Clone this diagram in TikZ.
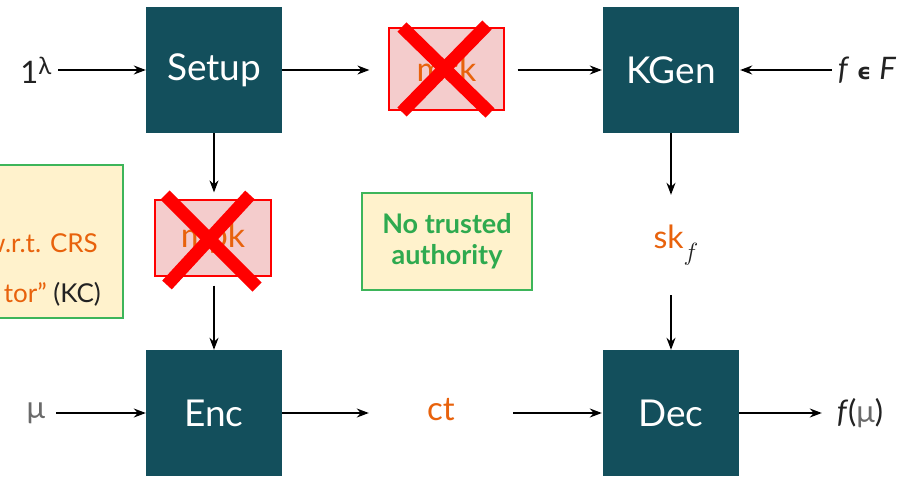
\documentclass[tikz,border=0pt]{standalone}
\usepackage{fontspec}
\setmainfont{Lato}
\newfontfamily\symfont{DejaVu Sans}
\usetikzlibrary{arrows.meta}
\definecolor{algofill}{HTML}{134F5C}
\definecolor{keyfill}{HTML}{F4CCCC}
\definecolor{keyline}{HTML}{FF0000}
\definecolor{accent}{HTML}{E8620C}
\definecolor{notefill}{HTML}{FFF2CC}
\definecolor{noteline}{HTML}{3DB55A}
\definecolor{notetext}{HTML}{2EAA4F}
\definecolor{ink}{HTML}{222222}
\definecolor{greyink}{HTML}{6A6A6A}
\begin{document}
\begin{tikzpicture}[x=1pt,y=-1pt,
  algo/.style={fill=algofill, minimum width=136pt, minimum height=126pt, inner sep=0pt,
    text=white, font=\fontsize{37}{42}\selectfont},
  keybox/.style={fill=keyfill, draw=keyline, line width=1.2pt, inner sep=0pt,
    text=accent, font=\fontsize{34}{38}\selectfont},
  note/.style={fill=notefill, draw=noteline, line width=1.4pt, inner sep=0pt},
  label/.style={text=ink, inner sep=0pt, font=\fontsize{31}{36}\selectfont},
  arr/.style={draw=black, line width=1.3pt, -{Stealth[length=12pt,width=9pt]}},
  cross/.style={draw=keyline, line width=13pt}]
\useasboundingbox (0,0) rectangle (903,480);
\clip (0,0) rectangle (903,480);

% algorithms
\node[algo] (setup) at (214,70) {Setup};
\node[algo] (kgen) at (671,70) {KGen};
\node[algo] (enc) at (214,413) {Enc};
\node[algo] (dec) at (671,413) {Dec};

% struck-out keys
\node[keybox, minimum width=115pt, minimum height=82pt] (msk) at (446.5,69) {msk};
\node[keybox, minimum width=116pt, minimum height=76pt] (mpk) at (213,238) {mpk};
\draw[cross] (402,27) -- (490,113);
\draw[cross] (487,25) -- (402,112);
\draw[cross] (165,195) -- (257,287);
\draw[cross] (250,195) -- (167,285);

% notes
\node[note, minimum width=170pt, minimum height=97pt, text=notetext, align=center,
  font=\bfseries\fontsize{27}{31}\selectfont] (trust) at (447,241.5) {No trusted\\authority};
\node[note, minimum width=200pt, minimum height=153pt] (kcbox) at (23,241.5) {};
\node[anchor=base east, text=accent, inner sep=0pt, font=\fontsize{26}{28}\selectfont] (crs) at (98,252) {w.r.t. CRS};
\node[anchor=base east, text=ink, inner sep=0pt, font=\fontsize{26}{28}\selectfont] (kc) at (101,302) {\textcolor{accent}{tor”} (KC)};

% inputs and outputs
\node[label, minimum width=44pt] (lam) at (36,70) {1\textsuperscript{\fontsize{24}{26}\selectfont λ}};
\node[label, minimum width=70pt] (fF) at (867,70) {\textit{f} {\symfont\bfseries\fontsize{22}{24}\selectfont ϵ} \textit{F}};
\node[label, text=greyink, minimum width=40pt] (mu) at (36,413) {μ};
\node[label, minimum width=76pt] (fmu) at (860,413) {\textit{f}(\textcolor{greyink}{μ})};
\node[text=accent, inner sep=0pt, minimum height=100pt, font=\fontsize{32}{36}\selectfont] (sk) at (676,245)
  {sk\raisebox{-12pt}{\textcolor{ink}{\fontsize{24}{26}\selectfont$f$}}};
\node[text=accent, inner sep=0pt, minimum width=144pt, font=\fontsize{33}{36}\selectfont] (ct) at (441,410) {ct};

% connectors
\draw[arr] (lam) -- (setup);
\draw[arr, shorten >=19pt] (setup.east) -- (setup.east -| msk.west);
\draw[arr, shorten <=13pt, shorten >=1pt] (msk.east |- kgen.west) -- (kgen.west);
\draw[arr, shorten >=1pt] (fF) -- (kgen);
\draw[arr, shorten >=7pt] (setup.south) -- (setup.south |- mpk.north);
\draw[arr, shorten <=9pt] (enc.north |- mpk.south) -- (enc.north);
\draw[arr] (kgen.south) -- (kgen.south |- sk.north);
\draw[arr] (dec.north |- sk.south) -- (dec.north);
\draw[arr] (mu) -- (enc);
\draw[arr] (enc.east) -- (enc.east -| ct.west);
\draw[arr, shorten >=1pt] (ct.east |- dec.west) -- (dec.west);
\draw[arr] (dec) -- (fmu);
\end{tikzpicture}
\end{document}
